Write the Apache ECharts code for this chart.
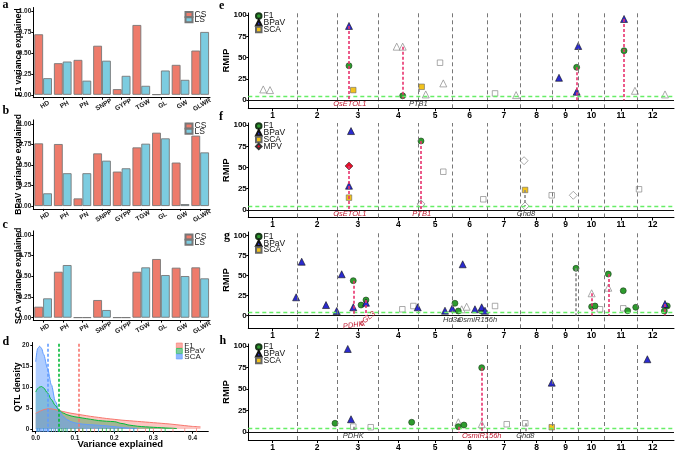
<!DOCTYPE html>
<html><head><meta charset="utf-8">
<script src="https://cdn.jsdelivr.net/npm/echarts@6/dist/echarts.min.js"></script>
<style>html,body{margin:0;padding:0;background:#fff}#c{width:675px;height:452px}</style>
</head><body><div id="c"></div>
<script>
// ---------- data: panels a-c (variance explained) ----------
const traits = ['HD','PH','PN','SNPP','GYPP','TGW','GL','GW','GLWR'];
const f1CS   = [0.728,0.38,0.42,0.59,0.068,0.84,0.005,0.36,0.532];
const f1LS   = [0.20,0.40,0.17,0.41,0.228,0.108,0.292,0.18,0.756];
const bpavCS = [0.764,0.756,0.093,0.642,0.42,0.715,0.894,0.53,0.858];
const bpavLS = [0.155,0.40,0.40,0.553,0.46,0.76,0.825,0.024,0.654];
const scaCS  = [0.133,0.556,0.003,0.214,0.003,0.556,0.71,0.605,0.609];
const scaLS  = [0.234,0.637,0.003,0.093,0.003,0.609,0.516,0.504,0.476];
// ---------- data: panel d (QTL density) ----------
const densX    = [0,0.005,0.01,0.015,0.02,0.03,0.04,0.05,0.06,0.07,0.08,0.09,0.1,0.12,0.14,0.16,0.18,0.2,0.22,0.24,0.26,0.28,0.3,0.32,0.34,0.36,0.38,0.4,0.42];
const densF1   = [3.7,3.95,4.2,4.4,4.6,4.8,4.8,4.6,4.35,4.15,3.95,3.75,3.6,3.3,3.0,2.75,2.5,2.3,2.1,1.95,1.8,1.65,1.5,1.35,1.2,1.0,0.8,0.6,0.5];
const densBPaV = [8.8,9.6,10,10.1,9.8,8.6,7.0,5.6,4.4,3.8,3.4,3.1,2.9,2.6,2.3,2.0,1.85,1.75,1.3,0.9,0.65,0.5,0.4,0.3,0.2,0.1];
const densSCA  = [16,19.2,19.7,19.2,17.8,14.5,10.5,6.6,4.3,3.0,2.2,1.75,1.45,1.15,1.0,0.9,0.75,0.55,0.35,0.18,0.07];
const meanF1 = 0.113, meanBPaV = 0.062, meanSCA = 0.028;
const rugF1   = [0.01,0.03,0.05,0.07,0.09,0.11,0.12,0.14,0.15,0.17,0.19,0.21,0.24,0.26,0.28,0.3,0.32,0.35,0.38,0.41];
const rugBPaV = [0.005,0.01,0.02,0.03,0.04,0.05,0.06,0.065,0.07,0.075,0.08,0.09,0.1,0.11,0.12,0.14,0.16,0.17,0.18,0.19,0.2,0.21,0.22,0.25,0.29,0.33];
const rugSCA  = [0.002,0.004,0.006,0.008,0.01,0.012,0.015,0.018,0.02,0.022,0.025,0.028,0.03,0.033,0.036,0.04,0.045,0.05,0.055,0.06,0.07,0.08,0.1,0.13,0.16,0.2,0.25];
// ---------- data: panels e-h (RMIP along rice chromosomes) ----------
const chrNames = ['1','2','3','4','5','6','7','8','9','10','11','12'];
const chrLen = [43.27,35.94,36.41,35.50,29.96,31.25,29.70,28.44,23.01,23.21,29.02,27.53];
const rmipTicks = [0,25,50,75,100];
const threshold = 4;
// [chromosome, position Mb, RMIP]
const eF1   = [[3,10.3,40.4],[4,21.6,5.1],[9,21.4,38.6],[11,17.3,58.1]];
const eBPaV = [[3,10.3,87.3],[9,5.7,26.3],[9,22.8,63.7],[9,21.4,9.8],[11,17.3,95.5]];
const eSCA  = [[3,14.1,11.8],[5,3.0,15.7]];
const eOther = [[1,13.3,12.6,'BPaV'],[1,19.3,11.8,'BPaV'],[4,16.3,62.9,'BPaV'],[4,21.6,62.9,'BPaV'],[5,6.6,6.7,'BPaV'],[5,19.3,44,'SCA'],[5,22.2,19.7,'BPaV'],[7,7.0,7.9,'SCA'],[7,25.7,5.9,'BPaV'],[11,27.0,11,'BPaV'],[12,24.7,6.7,'BPaV']];
const eLinks = [[3,10.3,87.3,0,'major'],[4,21.6,62.9,2,'major'],[9,21.4,38.6,0,'major'],[11,17.3,95.5,0,'major'],[5,0.3,13,9,'minor']];
const eGenes = [['OsETOL1',3,11.0,'major'],['PTB1',5,0.0,'minor']];

const fF1   = [[5,2.4,81.3]];
const fBPaV = [[3,12.1,93.0],[3,10.3,28.5]];
const fSCA  = [[3,10.3,14.4],[8,4.0,23.5]];
const fMPV  = [[3,10.3,51.8]];
const fOther = [[5,2.4,7.8,'BPaV'],[5,2.4,7.0,'MPV'],[5,22.2,45,'SCA'],[6,27.8,12.5,'SCA'],[8,3.1,58,'MPV'],[8,4.0,4.6,'MPV'],[8,27.7,17.2,'SCA'],[9,18.4,17.2,'MPV'],[12,1.6,24.3,'SCA']];
const fLinks = [[3,10.3,51.8,0,'major'],[5,2.4,81.3,0,'major'],[8,4.0,23.5,4.6,'minor']];
const fGenes = [['OsETOL1',3,11.0,'major'],['PTB1',5,3.0,'major'],['Ghd8',8,4.8,'minor']];

const gF1   = [[3,14.1,43.6],[3,21.0,13.1],[3,25.4,19.4],[6,2.6,15.3],[6,5.6,5.6],[6,26.4,5.6],[9,20.8,59.1],[10,11.7,11],[10,14.7,11.9],[11,3.3,51.9],[11,16.6,31],[11,20.5,6],[11,27.7,10.3],[12,26.7,11.9],[12,24.1,5.6]];
const gBPaV = [[1,42.5,22.8],[2,4.2,67.3],[2,25.8,13.1],[2,35.3,5.6],[3,3.8,51.6],[3,14.1,10.3],[3,25.4,16],[4,35.0,10.3],[5,23.7,6],[6,0.2,9],[6,9.5,64.1],[6,20.4,7.8],[6,26.4,10.3],[6,29.3,6],[12,24.7,14.4]];
const gSCA  = [];
const gOther = [[4,21.3,7.8,'SCA'],[4,31.1,11.9,'SCA'],[6,8.6,7.8,'BPaV'],[6,13.0,11,'BPaV'],[7,7.0,11.9,'SCA'],[10,11.7,27.8,'BPaV'],[10,19.1,7.8,'SCA'],[11,3.3,34.8,'BPaV'],[11,16.6,9,'SCA']];
const gLinks = [[3,14.1,43.6,-1,'major'],[3,25.4,19.4,-1,'major'],[9,20.8,59.1,0,'minor'],[10,11.7,27.8,0,'major'],[11,3.3,51.9,0,'major'],[12,24.7,14.4,0,'major']];
const gGenes = [['PDHK',3,14.1,'major'],['qGL3',3,26.5,'major'],['Hd3a',6,0.0,'minor'],['OsmiR156h',6,22.5,'minor']];

const hF1   = [[2,33.8,10],[4,29.6,11.2],[6,5.6,6.1],[6,10.6,8],[6,26.4,74.9]];
const hBPaV = [[3,9.2,96.7],[3,12.1,14.7],[8,27.7,57.4],[12,9.0,84.7]];
const hSCA  = [[8,27.7,5.4]];
const hOther = [[3,14.1,6.1,'SCA'],[3,29.6,5.4,'SCA'],[6,5.6,11.2,'BPaV'],[6,26.4,8.9,'BPaV'],[7,17.4,8.9,'SCA'],[8,4.2,10,'SCA']];
const hLinks = [[6,5.6,6.1,-1,'major'],[6,26.4,74.9,0,'major'],[3,14.1,6.1,0,'minor'],[8,4.2,10,0,'minor']];
const hGenes = [['PDHK',3,14.1,'minor'],['OsmiR156h',6,26.4,'major'],['Ghd8',8,4.2,'minor']];

// ---------- derived ----------
const chrStart = []; { let a = 0; chrLen.forEach(l => { chrStart.push(a); a += l; }); }
const chrCenter = chrStart.map((s, i) => s + chrLen[i] / 2);
const chrBounds = chrStart.slice(1);
const cum = (c, p) => chrStart[c - 1] + p;

// ---------- styling ----------
const FONT = '"Liberation Sans", Arial, sans-serif';
const SERIF = '"Liberation Serif", "DejaVu Serif", serif';
const cCS = '#EE7B6B', cLS = '#7CCCE0';
const dRed = '#F8766D', dGreen = '#00BA38', dBlue = '#619CFF';
const symStyle = {
  F1:   {symbol:'circle',   size:6,   color:'#2E9B2E', border:'#1a3a1a'},
  BPaV: {symbol:'triangle', size:7,   color:'#2B2BCF', border:'#111'},
  SCA:  {symbol:'rect',     size:5.5, color:'#F2C21B', border:'#666'},
  MPV:  {symbol:'diamond',  size:8,   color:'#E3102A', border:'#333'}
};
const linkColor = {major:'#E8336E', minor:'#8a8a8a'};
const geneColor = {major:'#C0182E', minor:'#333'};
const geneLabelStyle = { 'g:PDHK': {y:-12, rotate:8}, 'g:qGL3': {y:-4, rotate:40} };

const grids = [
  {left:33.3, top:7.5,   width:176.7, height:90.2},
  {left:33.3, top:119.9, width:176.7, height:89},
  {left:33.3, top:230.9, width:176.7, height:89.7},
  {left:32.3, top:342.5, width:176,   height:89.2},
  {left:248.3, top:13,  width:425.7, height:95.3},
  {left:248.3, top:123, width:425.7, height:94.5},
  {left:248.3, top:232, width:425.7, height:96.3},
  {left:248.3, top:344, width:425.7, height:96}
];
const rightRange = [[-9.6,102.5],[-9,102.5],[-16,104.5],[-9.5,102.5]];

const xAxes = [], yAxes = [], series = [], legends = [];
const axisLineBlack = {show:true, onZero:false, lineStyle:{color:'#000', width:1}};

// bar panels
const barSets = [[f1CS,f1LS,'F1 variance explained','a'],[bpavCS,bpavLS,'BPaV variance explained','b'],[scaCS,scaLS,'SCA variance explained','c']];
const legendTops = [10, 121.5, 232.5];
barSets.forEach((s, gi) => {
  xAxes.push({type:'category', gridIndex:gi, data:traits, axisLine:axisLineBlack,
    axisTick:{show:true, alignWithLabel:true, length:2, lineStyle:{color:'#000'}},
    axisLabel:{interval:0, rotate:30, align:'center', verticalAlign:'top', fontSize:6.5, fontWeight:'bold', fontFamily:FONT, color:'#222', margin:4}});
  yAxes.push({type:'value', gridIndex:gi, min:-0.035, max:1.05, name:s[2], nameLocation:'middle', nameGap:10.5, nameMoveOverlap:false,
    nameTextStyle:{fontSize:8.5, fontWeight:'bold', color:'#000', fontFamily:FONT},
    axisLine:axisLineBlack, axisTick:{show:true, length:2, customValues:[0,0.25,0.5,0.75,1], lineStyle:{color:'#000'}},
    axisLabel:{customValues:[0,0.25,0.5,0.75,1], formatter:v => v.toFixed(2), fontSize:6.5, fontWeight:'bold', fontFamily:FONT, color:'#222', margin:2},
    splitLine:{show:false}});
  const k = s[3];
  series.push({type:'bar', name:'CS|'+k, xAxisIndex:gi, yAxisIndex:gi, data:s[0], barCategoryGap:'10%', barGap:'0%',
    itemStyle:{color:cCS, borderColor:'#777', borderWidth:0.9}});
  series.push({type:'bar', name:'LS|'+k, xAxisIndex:gi, yAxisIndex:gi, data:s[1], barCategoryGap:'10%', barGap:'0%',
    itemStyle:{color:cLS, borderColor:'#777', borderWidth:0.9}});
  legends.push({data:[{name:'CS|'+k, icon:'rect'},{name:'LS|'+k, icon:'rect'}], left:184.5, top:legendTops[gi], orient:'vertical',
    itemWidth:7, itemHeight:5, itemGap:-3.8, padding:0,
    textStyle:{fontSize:8.5, fontFamily:FONT, color:'#222', padding:[0,0,0,-3]}});
});

// density panel
xAxes.push({type:'value', gridIndex:3, min:-0.0087, max:0.44, name:'Variance explained', nameLocation:'middle', nameGap:8, nameMoveOverlap:false,
  nameTextStyle:{fontSize:9.5, fontWeight:'bold', color:'#000', fontFamily:FONT},
  axisLine:axisLineBlack, axisTick:{length:2, customValues:[0,0.1,0.2,0.3,0.4], lineStyle:{color:'#000'}},
  axisLabel:{customValues:[0,0.1,0.2,0.3,0.4], formatter:v => v.toFixed(1), fontSize:6.5, fontWeight:'bold', fontFamily:FONT, color:'#222', margin:3},
  splitLine:{show:false}});
yAxes.push({type:'value', gridIndex:3, min:-0.65, max:20.6, name:'QTL density', nameLocation:'middle', nameGap:10, nameMoveOverlap:false,
  nameTextStyle:{fontSize:8.5, fontWeight:'bold', color:'#000', fontFamily:FONT},
  axisLine:axisLineBlack, axisTick:{length:2, customValues:[0,5,10,15,20], lineStyle:{color:'#000'}},
  axisLabel:{customValues:[0,5,10,15,20], fontSize:6.5, fontWeight:'bold', fontFamily:FONT, color:'#222', margin:3},
  splitLine:{show:false}});
const densSets = [['F1|d',densF1,dRed,'rgba(248,118,109,0.6)',meanF1,rugF1],
                  ['BPaV|d',densBPaV,dGreen,'rgba(0,150,60,0.5)',meanBPaV,rugBPaV],
                  ['SCA|d',densSCA,dBlue,'rgba(97,156,255,0.72)',meanSCA,rugSCA]];
densSets.forEach(d => {
  series.push({type:'line', name:d[0], xAxisIndex:3, yAxisIndex:3, showSymbol:false, smooth:0.3, smoothMonotone:'x',
    data:d[1].map((v, i) => [densX[i], v]), lineStyle:{color:d[2], width:1}, itemStyle:{color:d[2]},
    areaStyle:{color:d[3]},
    markLine:{silent:true, symbol:['none','none'], label:{show:false}, lineStyle:{color:d[2], type:[3,2], width:1.6},
      data:[{xAxis:d[4]}]}});
  series.push({type:'scatter', name:'rug'+d[0], xAxisIndex:3, yAxisIndex:3, symbol:'rect', symbolSize:[0.9,3.5],
    data:d[5].map(x => [x, -0.25]), itemStyle:{color:d[2]}, z:3});
});
legends.push({data:densSets.map(d => ({name:d[0], icon:'rect', itemStyle:{color:d[3], borderColor:d[2], borderWidth:0.6}})),
  left:176, top:341.5, orient:'vertical', itemWidth:6, itemHeight:5, itemGap:-2.5, padding:0,
  textStyle:{fontSize:8, fontFamily:FONT, color:'#222', padding:[0,0,0,-3]}});

// RMIP panels
const panels = [
  {k:'e', F1:eF1, BPaV:eBPaV, SCA:eSCA, other:eOther, links:eLinks, genes:eGenes},
  {k:'f', F1:fF1, BPaV:fBPaV, SCA:fSCA, MPV:fMPV, other:fOther, links:fLinks, genes:fGenes},
  {k:'g', F1:gF1, BPaV:gBPaV, SCA:gSCA, other:gOther, links:gLinks, genes:gGenes},
  {k:'h', F1:hF1, BPaV:hBPaV, SCA:hSCA, other:hOther, links:hLinks, genes:hGenes}
];
const legendTopsR = [11.5, 121.5, 232, 342.5];
panels.forEach((p, i) => {
  const gi = 4 + i;
  xAxes.push({type:'value', gridIndex:gi, min:0, max:378.4, axisLine:axisLineBlack,
    axisTick:{customValues:chrCenter, length:3, lineStyle:{color:'#000'}},
    axisLabel:{customValues:chrCenter, formatter:v => chrNames[chrCenter.findIndex(c => Math.abs(c - v) < 1e-6)],
      fontSize:8.5, fontWeight:'bold', fontFamily:FONT, color:'#000', margin:3},
    splitLine:{show:false}});
  yAxes.push({type:'value', gridIndex:gi, min:rightRange[i][0], max:rightRange[i][1], name:'RMIP', nameLocation:'middle', nameGap:17, nameMoveOverlap:false,
    nameTextStyle:{fontSize:9.5, fontWeight:'bold', color:'#000', fontFamily:FONT},
    axisLine:axisLineBlack, axisTick:{customValues:rmipTicks, length:2, lineStyle:{color:'#000'}},
    axisLabel:{customValues:rmipTicks, fontSize:8, fontWeight:'bold', fontFamily:FONT, color:'#000', margin:1.5},
    splitLine:{show:false}});
  series.push({type:'scatter', name:'Other|'+p.k, xAxisIndex:gi, yAxisIndex:gi, z:2,
    data:p.other.map(o => ({value:[cum(o[0], o[1]), o[2]], symbol:symStyle[o[3]].symbol, symbolSize:symStyle[o[3]].size})),
    itemStyle:{color:'#fff', borderColor:'#8a8a8a', borderWidth:0.9},
    markLine:{silent:true, symbol:['none','none'], label:{show:false}, animation:false,
      data:[
        ...chrBounds.map(b => ({xAxis:b, lineStyle:{color:'#777', type:[4,3], width:1}})),
        {yAxis:0, lineStyle:{color:'#111', type:'solid', width:1}},
        {yAxis:threshold, lineStyle:{color:'#66EE66', type:[4,3], width:1.3}}
      ]}});
  series.push({type:'scatter', name:'links|'+p.k, xAxisIndex:gi, yAxisIndex:gi, z:3, symbolSize:0,
    data:p.links.map(l => [cum(l[0], l[1]), l[2]]), itemStyle:{color:'rgba(0,0,0,0)'},
    markLine:{silent:true, symbol:['none','none'], label:{show:false}, animation:false,
      data:p.links.map(l => {
        const ls = {color:linkColor[l[4]], type:[3,2], width:1.6};
        return [{coord:[cum(l[0], l[1]), l[2]], lineStyle:ls}, {coord:[cum(l[0], l[1]), l[3]], lineStyle:ls}];
      })}});
  const names = ['F1','BPaV','SCA'].concat(p.MPV ? ['MPV'] : []);
  names.forEach(n => {
    const st = symStyle[n];
    series.push({type:'scatter', name:n + '|' + p.k, xAxisIndex:gi, yAxisIndex:gi, z:4,
      symbol:st.symbol, symbolSize:st.size, data:p[n].map(d => [cum(d[0], d[1]), d[2]]),
      itemStyle:{color:st.color, borderColor:st.border, borderWidth:0.6, opacity:1}});
  });
  series.push({type:'scatter', name:'genes|'+p.k, xAxisIndex:gi, yAxisIndex:gi, z:5, symbolSize:1,
    itemStyle:{color:'rgba(255,255,255,0)'},
    label:{show:true, position:'inside', formatter:'{b}', fontSize:7.5, fontStyle:'italic', fontFamily:FONT, textBorderWidth:0, opacity:1},
    data:p.genes.map(g => {
      const ov = geneLabelStyle[p.k + ':' + g[0]] || {};
      return {name:g[0], value:[cum(g[1], g[2]), ov.y !== undefined ? ov.y : -5],
        label:{color:geneColor[g[3]], rotate:ov.rotate || 0}};
    })});
  legends.push({data:names.map(n => n + '|' + p.k), left:255, top:legendTopsR[i], orient:'vertical',
    itemWidth:5.5, itemHeight:5.5, itemGap:-2.2, padding:0,
    textStyle:{fontSize:8.5, fontFamily:FONT, color:'#111', padding:[0,0,0,-3]}});
});

legends.forEach(l => { l.formatter = n => n.split('|')[0]; l.selectedMode = false; });

const letters = [['a',2.5,5],['b',2.5,111],['c',2.5,224.5],['d',2.5,341.5],['e',219,6.3],['f',219,117],['g',224,236],['h',219.5,341]];
const chart = echarts.init(document.getElementById('c'), null, {renderer:'canvas'});
chart.setOption({
  animation:false,
  backgroundColor:'#fff',
  textStyle:{fontFamily:FONT},
  grid:grids,
  xAxis:xAxes,
  yAxis:yAxes,
  legend:legends,
  series:series,
  graphic:letters.map(l => ({type:'text', x:l[1], y:l[2],
    style:{text:l[0], font:'bold 12px ' + SERIF, fill:'#000', verticalAlign:'middle', align:'left'}}))
});
</script>
</body></html>
